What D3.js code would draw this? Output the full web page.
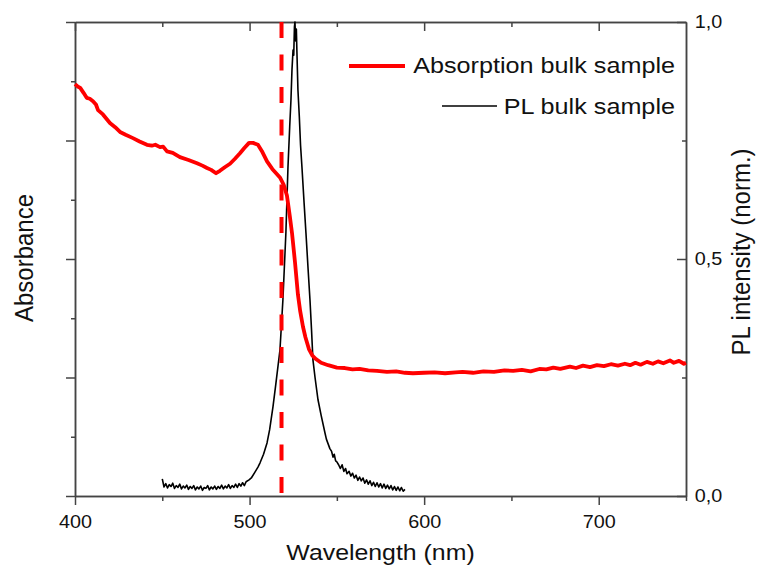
<!DOCTYPE html>
<html>
<head>
<meta charset="utf-8">
<script src="https://cdn.jsdelivr.net/npm/d3@7"></script>
<style>
  html, body { margin: 0; padding: 0; background: #fff; }
  svg { display: block; font-family: "Liberation Sans", Arial, sans-serif; }
</style>
</head>
<body>
<div id="chart"></div>
<script>
// Absorption and PL spectra of a bulk sample

// Data (absorbance on a normalised, unlabelled scale)
const absWl = [400, 401.5, 403, 405, 406.7, 408.5, 410.3, 412, 413.2, 416, 420, 423, 425.8, 429, 433.2, 437, 441.2, 444, 446, 448.7,
  450.5, 452.7, 456, 460.1, 465, 469.9, 473, 475.6, 478, 480.8, 483, 486, 488.8, 491.5, 494.5, 497, 499.7, 502, 504.8, 507,
  510, 513, 517.4, 519.5, 521.4, 523, 524.3, 526, 527.7, 529, 530.6, 532, 534, 536, 538, 541, 545, 550, 554.6, 559,
  563, 568, 573, 578.7, 584, 589, 593.6, 600, 606, 612, 618, 622, 628, 634, 640, 646, 651, 656, 661, 666,
  670, 674, 678, 683.5, 687, 691, 695, 699, 703, 707, 711, 715, 718, 721, 724, 727.6, 731, 734, 737, 740.8,
  743, 746, 748.8, 750];
const absVal = [0.869, 0.864, 0.861, 0.850, 0.840, 0.838, 0.833, 0.826, 0.814, 0.805, 0.787, 0.778, 0.768, 0.762, 0.755, 0.748, 0.741, 0.739, 0.741, 0.736,
  0.737, 0.727, 0.724, 0.715, 0.709, 0.702, 0.697, 0.692, 0.688, 0.681, 0.686, 0.694, 0.701, 0.711, 0.723, 0.734, 0.745, 0.745, 0.741, 0.728,
  0.706, 0.690, 0.672, 0.657, 0.634, 0.592, 0.555, 0.494, 0.425, 0.390, 0.357, 0.335, 0.310, 0.296, 0.289, 0.281, 0.276, 0.271, 0.270, 0.267,
  0.268, 0.265, 0.264, 0.262, 0.263, 0.260, 0.259, 0.260, 0.261, 0.259, 0.261, 0.262, 0.260, 0.263, 0.262, 0.265, 0.264, 0.266, 0.263, 0.268,
  0.267, 0.271, 0.268, 0.273, 0.270, 0.275, 0.272, 0.276, 0.274, 0.278, 0.275, 0.279, 0.276, 0.281, 0.277, 0.283, 0.279, 0.284, 0.280, 0.286,
  0.281, 0.285, 0.279, 0.281];

const plWl = [450, 451, 452, 453, 454, 455, 456, 457, 458, 459, 460, 461, 462, 463, 464, 465, 466, 467, 468, 469,
  470, 471, 472, 473, 474, 475, 476, 477, 478, 479, 480, 481, 482, 483, 484, 485, 486, 487, 488, 489,
  490, 491, 492, 493, 494, 495, 496, 497, 498, 499.7, 501, 503, 504.8, 506, 508, 510, 511.5, 513.4,
  515, 517.4, 519.1, 520.8, 522, 523, 523.7, 524.3, 524.9, 525.3, 525.7, 526, 526.4, 526.8, 527.1, 527.7, 528.5, 529.2, 530, 531.2,
  532.3, 533.5, 534.6, 535.5, 536.3, 537.5, 539.2, 541, 543.2, 544, 545, 546, 547, 547.8, 548.5, 549.3, 550, 551, 552, 553,
  554, 555, 555.8, 557, 558, 559, 560, 561, 562, 563, 564, 565, 566, 567, 568, 569, 570, 571, 572, 573,
  574, 575, 576, 577, 578, 579, 580, 581, 582, 583, 584, 585, 586, 587, 588, 589];
const plVal = [0.036, 0.019, 0.026, 0.017, 0.024, 0.020, 0.027, 0.016, 0.022, 0.018, 0.025, 0.015, 0.021, 0.017, 0.023, 0.014, 0.020, 0.016, 0.022, 0.013,
  0.019, 0.015, 0.021, 0.012, 0.018, 0.016, 0.022, 0.013, 0.019, 0.015, 0.021, 0.014, 0.020, 0.016, 0.023, 0.015, 0.021, 0.017, 0.024, 0.016,
  0.022, 0.018, 0.025, 0.018, 0.026, 0.021, 0.028, 0.022, 0.030, 0.034, 0.038, 0.050, 0.061, 0.070, 0.088, 0.112, 0.140, 0.188,
  0.235, 0.308, 0.414, 0.555, 0.694, 0.780, 0.835, 0.900, 0.941, 0.930, 0.990, 1.000, 0.960, 0.985, 0.940, 0.857, 0.800, 0.740, 0.694, 0.620,
  0.555, 0.480, 0.414, 0.350, 0.287, 0.250, 0.203, 0.170, 0.133, 0.120, 0.110, 0.100, 0.094, 0.082, 0.088, 0.074, 0.072, 0.066, 0.058, 0.066,
  0.052, 0.058, 0.047, 0.052, 0.042, 0.048, 0.038, 0.044, 0.033, 0.040, 0.032, 0.038, 0.027, 0.034, 0.025, 0.032, 0.022, 0.029, 0.020, 0.028,
  0.019, 0.026, 0.017, 0.025, 0.016, 0.023, 0.015, 0.022, 0.013, 0.020, 0.012, 0.019, 0.011, 0.018, 0.010, 0.014];

const markerWl = 518.3;

const xMajor = [400, 500, 600, 700];
const xMinor = [450, 550, 650, 750];
const leftMajor = [0, 0.25, 0.5, 0.75, 1];
const leftMinor = [0.125, 0.375, 0.625, 0.875];
const rightMajor = [0, 0.5, 1];
const rightMinor = [0.25, 0.75];

const seriesNames = ["Absorption bulk sample", "PL bulk sample"];

// Chart dimensions
const width = 758, height = 569,
      marginTop = 22, marginRight = 72, marginBottom = 73, marginLeft = 75;

const red = "#ff0000", axisColor = "#444";

const x = d3.scaleLinear()
    .domain([400, 750])
    .range([marginLeft, width - marginRight]);

const yAbs = d3.scaleLinear()
    .domain([0, 1])
    .range([height - marginBottom, marginTop]);

const yPL = d3.scaleLinear()
    .domain([0, 1])
    .range([height - marginBottom, marginTop]);

const svg = d3.select("#chart")
  .append("svg")
    .attr("width", width)
    .attr("height", height)
    .attr("viewBox", [0, 0, width, height]);

const comma = d => d3.format(".1f")(d).replace(".", ",");

// Axes
function styleAxis(g) {
  g.select(".domain").attr("stroke", axisColor).attr("stroke-width", 1.5);
  g.selectAll(".tick line").attr("stroke", axisColor).attr("stroke-width", 1.5);
  g.selectAll("text").attr("fill", "#111").attr("font-size", 18)
    .attr("font-family", "Liberation Sans, Arial, sans-serif")
    .attr("transform", "scale(1.1,1)");
}

// bottom
svg.append("g")
    .attr("transform", `translate(0,${height - marginBottom})`)
    .call(d3.axisBottom(x).tickValues(xMajor).tickSizeInner(9).tickSizeOuter(0).tickPadding(10))
    .call(styleAxis);
svg.append("g")
    .attr("transform", `translate(0,${height - marginBottom})`)
    .call(d3.axisBottom(x).tickValues(xMinor).tickSizeInner(5).tickSizeOuter(0).tickFormat(""))
    .call(styleAxis);

// top
svg.append("g")
    .attr("transform", `translate(0,${marginTop})`)
    .call(d3.axisTop(x).tickValues(xMajor).tickSizeInner(-9).tickSizeOuter(0).tickFormat(""))
    .call(styleAxis);
svg.append("g")
    .attr("transform", `translate(0,${marginTop})`)
    .call(d3.axisTop(x).tickValues(xMinor.slice(0, 3)).tickSizeInner(-5).tickSizeOuter(0).tickFormat(""))
    .call(styleAxis);

// left
svg.append("g")
    .attr("transform", `translate(${marginLeft},0)`)
    .call(d3.axisLeft(yAbs).tickValues(leftMajor).tickSizeInner(9).tickSizeOuter(0).tickFormat(""))
    .call(styleAxis);
svg.append("g")
    .attr("transform", `translate(${marginLeft},0)`)
    .call(d3.axisLeft(yAbs).tickValues(leftMinor).tickSizeInner(4).tickSizeOuter(0).tickFormat(""))
    .call(styleAxis);

// right
svg.append("g")
    .attr("transform", `translate(${width - marginRight},0)`)
    .call(d3.axisRight(yPL).tickValues(rightMajor).tickSizeInner(-9).tickSizeOuter(0).tickPadding(8).tickFormat(comma))
    .call(styleAxis);
svg.append("g")
    .attr("transform", `translate(${width - marginRight},0)`)
    .call(d3.axisRight(yPL).tickValues(rightMinor).tickSizeInner(-4).tickSizeOuter(0).tickFormat(""))
    .call(styleAxis);

// Axis titles
svg.append("text")
    .attr("transform", `translate(${(marginLeft + width - marginRight) / 2},560) scale(1.13,1)`)
    .attr("text-anchor", "middle")
    .attr("font-size", 22)
    .attr("fill", "#111")
    .text("Wavelength (nm)");

svg.append("text")
    .attr("transform", `translate(33,258) scale(1.1,1) rotate(-90)`)
    .attr("text-anchor", "middle")
    .attr("font-size", 24)
    .attr("fill", "#111")
    .text("Absorbance");

svg.append("text")
    .attr("transform", `translate(750,252) scale(1.1,1) rotate(-90)`)
    .attr("text-anchor", "middle")
    .attr("font-size", 24)
    .attr("fill", "#111")
    .text("PL intensity (norm.)");

// Lines
const absData = absWl.map((w, i) => ({ w, v: absVal[i] }));
const plData = plWl.map((w, i) => ({ w, v: plVal[i] }));

svg.append("path")
    .datum(plData)
    .attr("fill", "none")
    .attr("stroke", "#000")
    .attr("stroke-width", 1.6)
    .attr("stroke-linejoin", "round")
    .attr("d", d3.line().x(d => x(d.w)).y(d => yPL(d.v)));

svg.append("path")
    .datum(absData)
    .attr("fill", "none")
    .attr("stroke", red)
    .attr("stroke-width", 3.8)
    .attr("stroke-linejoin", "round")
    .attr("d", d3.line().x(d => x(d.w)).y(d => yAbs(d.v)));

// dashed marker
svg.append("line")
    .attr("x1", x(markerWl)).attr("x2", x(markerWl))
    .attr("y1", yPL(1)).attr("y2", yPL(0))
    .attr("stroke", red)
    .attr("stroke-width", 4)
    .attr("stroke-dasharray", "16,16.5");

// Legend
const legend = [
  { name: seriesNames[0], color: red, w: 4, ly: 66, ty: 73, x1: 349, x2: 405 },
  { name: seriesNames[1], color: "#000", w: 1.5, ly: 106, ty: 114, x1: 442, x2: 497 }
];
legend.forEach(l => {
  svg.append("line")
      .attr("x1", l.x1).attr("x2", l.x2)
      .attr("y1", l.ly).attr("y2", l.ly)
      .attr("stroke", l.color)
      .attr("stroke-width", l.w);
  svg.append("text")
      .attr("transform", `translate(675,${l.ty}) scale(1.12,1)`)
      .attr("text-anchor", "end")
      .attr("font-size", 22.5)
      .attr("fill", "#111")
      .text(l.name);
});
</script>
</body>
</html>
